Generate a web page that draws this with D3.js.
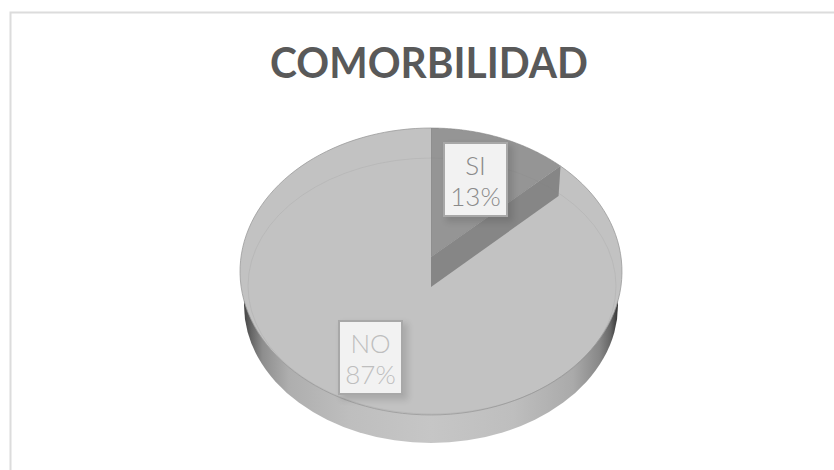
<!DOCTYPE html>
<html>
<head>
<meta charset="utf-8">
<script src="https://cdn.jsdelivr.net/npm/d3@7"></script>
<style>
html,body{margin:0;padding:0;background:#fff;}
svg{display:block;}
text{font-family:Lato,"Open Sans",sans-serif;}
</style>
</head>
<body>
<svg id="chart" width="834" height="470"></svg>
<script>
const title = "COMORBILIDAD";
const categories = ["SI", "NO"];
const values = [13, 87];
const sliceFill = ["#959595", "#c2c2c2"];
const wallFill = "#868686";
const labelInk = ["#8a8a8a", "#bebebe"];

const svg = d3.select("#chart");
const defs = svg.append("defs");

// frame: only top and left lines show in the crop
svg.append("path").attr("d", "M10.5,470V12.5H834")
    .attr("fill", "none").attr("stroke", "#dcdcdc").attr("stroke-width", 2);

svg.append("text").attr("x", 429).attr("y", 77.5).attr("text-anchor", "middle")
    .attr("font-size", 42).attr("font-weight", 700).attr("fill", "#595959")
    .attr("textLength", 318).attr("lengthAdjust", "spacingAndGlyphs").text(title);

// pie seen in perspective: a = angle clockwise from top
const cx = 431, apexY = 257, depth = 30;
const persp = 0.101, sx = 190, sy = 142;
function project(a, r, dy){
    const u = r*Math.sin(a), v = r*Math.cos(a), w = 1 + persp*v;
    return [cx + sx*u/w, apexY - sy*v/w + (dy || 0)];
}
const line = d3.line();
const tau = Math.PI*2;
const rim = (a0, a1, dy) => d3.range(0, 121).map(i => project(a0 + (a1-a0)*i/120, 1, dy));

const arcs = d3.pie().sort(null).value(d => d)(values);

// side wall, lower rim is a bit narrower than the top face
const wallGrad = defs.append("linearGradient").attr("id", "wall")
    .attr("gradientUnits", "userSpaceOnUse").attr("x1", 244).attr("x2", 618).attr("y1", 0).attr("y2", 0);
[[0,"#444"],[0.02,"#666"],[0.05,"#8e8e8e"],[0.12,"#aeaeae"],[0.28,"#bebebe"],[0.5,"#c6c6c6"],[0.72,"#bebebe"],[0.88,"#aaaaaa"],[0.95,"#888"],[0.98,"#666"],[1,"#333"]]
    .forEach(s => wallGrad.append("stop").attr("offset", s[0]).attr("stop-color", s[1]));
svg.append("ellipse").attr("cx", cx).attr("cy", 305).attr("rx", 187).attr("ry", 138)
    .attr("fill", "url(#wall)");

// top faces
svg.selectAll("path.slice").data(arcs).enter().append("path")
    .attr("class", "slice")
    .attr("d", d => line([project(0, 0)].concat(rim(d.startAngle, d.endAngle))) + "Z")
    .attr("fill", (d, i) => sliceFill[i])
    .attr("stroke", (d, i) => i ? "none" : "#858585").attr("stroke-width", 0.6);

// inner wall of the SI slice, seen through the cut
const si = arcs[0];
const edge = project(si.endAngle, 1), tip = project(0, 0);
svg.append("path")
    .attr("d", line([tip, edge, [edge[0]-2, edge[1]+depth], [tip[0], tip[1]+depth]]) + "Z")
    .attr("fill", wallFill);

// outline of the top face
svg.append("path").attr("d", line(rim(si.endAngle, tau)))
    .attr("fill", "none").attr("stroke", "#9a9a9a").attr("stroke-width", 0.8);

// faint bevel ring
svg.append("ellipse").attr("cx", 432).attr("cy", 286).attr("rx", 184).attr("ry", 128)
    .attr("fill", "none").attr("stroke", "#808080").attr("stroke-opacity", 0.14);

// labels
const shadow = defs.append("filter").attr("id", "soft").attr("x", "-20%").attr("y", "-20%").attr("width", "150%").attr("height", "150%");
shadow.append("feGaussianBlur").attr("stdDeviation", 3);

const labelPos = [[443, 142], [338, 320]];
const labelW = 65, labelH = 75;
const labels = svg.selectAll("g.label").data(categories).enter().append("g")
    .attr("class", "label")
    .attr("transform", (d, i) => `translate(${labelPos[i][0]},${labelPos[i][1]})`);
labels.append("rect").attr("x", 3).attr("y", 3).attr("width", labelW+2).attr("height", labelH+2)
    .attr("fill", "#000").attr("opacity", 0.12).attr("filter", "url(#soft)");
labels.append("rect").attr("x", 1).attr("y", 1).attr("width", labelW-2).attr("height", labelH-2)
    .attr("fill", "#f2f2f2").attr("stroke", "#a8a8a8").attr("stroke-width", 2);
labels.append("text").attr("x", labelW/2).attr("y", 33).attr("text-anchor", "middle")
    .attr("font-size", 26).attr("font-weight", 300).attr("fill", (d, i) => labelInk[i]).text(d => d);
labels.append("text").attr("x", labelW/2).attr("y", 64).attr("text-anchor", "middle")
    .attr("font-size", 26).attr("font-weight", 300).attr("fill", (d, i) => labelInk[i]).text((d, i) => values[i] + "%");
</script>
</body>
</html>
